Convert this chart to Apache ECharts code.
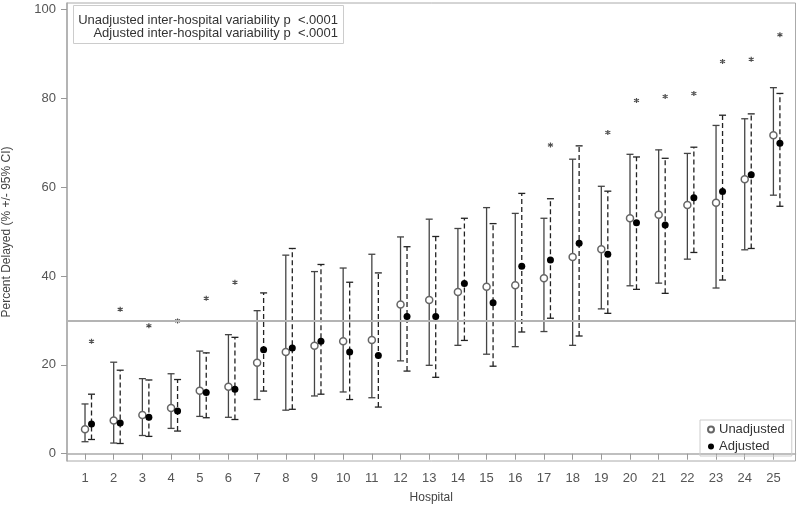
<!DOCTYPE html>
<html>
<head>
<meta charset="utf-8">
<script src="https://cdn.jsdelivr.net/npm/echarts@6/dist/echarts.min.js"></script>
<style>html,body{margin:0;padding:0;background:#fff;}#chart{width:800px;height:514px;}</style>
</head>
<body>
<div id="chart"></div>
<script>
const hospitals = [1,2,3,4,5,6,7,8,9,10,11,12,13,14,15,16,17,18,19,20,21,22,23,24,25];
const unadj     = [5.5,7.5,8.7,10.3,14.2,15.1,20.5,22.9,24.3,25.3,25.6,33.6,34.6,36.4,37.6,37.9,39.5,44.3,46.0,53.0,53.8,56.0,56.5,61.8,71.7];
const unadjLow  = [2.7,2.4,4.1,5.7,8.4,8.2,12.2,9.8,13.0,13.9,12.6,20.9,19.9,24.4,22.4,24.1,27.5,24.4,32.6,37.8,38.4,43.8,37.3,45.9,58.2];
const unadjHigh = [11.2,20.6,16.9,18.0,23.1,26.8,32.2,44.7,41.0,41.8,44.9,48.8,52.8,50.7,55.4,54.1,53.0,66.3,60.2,67.4,68.4,67.6,73.9,75.4,82.4];
const adj       = [6.7,6.9,8.2,9.6,13.8,14.5,23.4,23.8,25.3,22.9,22.1,30.9,30.9,38.3,34.0,42.2,43.6,47.4,44.9,52.0,51.5,57.6,59.0,62.8,69.9];
const adjLow    = [3.2,2.3,3.9,5.1,8.1,7.7,14.1,10.0,13.4,12.2,10.5,18.6,17.2,25.5,19.7,27.4,30.5,26.5,31.6,37.0,36.1,45.3,39.1,46.2,55.7];
const adjHigh   = [13.4,18.8,16.6,16.7,22.7,26.2,36.2,46.2,42.6,38.6,40.7,46.6,48.9,53.0,51.8,58.6,57.4,69.3,59.1,66.8,66.5,69.0,76.2,76.5,81.1];
const starHosp  = [1,2,3,4,5,6,17,19,20,21,22,23,24,25];
const starVal   = [25.3,32.5,28.8,29.9,35.0,38.6,69.5,72.3,79.5,80.4,81.1,88.3,88.8,94.3];
const yTicks    = [0,20,40,60,80,100];
const refLine   = 30;
const insetLines = ['Unadjusted inter-hospital variability p  <.0001', 'Adjusted inter-hospital variability p  <.0001'];

const FONT = '"Liberation Sans", Arial, sans-serif';
const ADJ_OFF = 6.5;
const CAP = 3.5;

function ciSeries(name, lo, hi, dx, dashed, color) {
  return {
    name: name, type: 'custom', silent: true, z: 2,
    data: hospitals.map((h, i) => [h, lo[i], hi[i]]),
    encode: { x: 0, y: [1, 2] },
    renderItem: function (params, api) {
      const x = api.value(0);
      const a = api.coord([x, api.value(1)]);
      const b = api.coord([x, api.value(2)]);
      const px = a[0] + dx;
      const base = { stroke: color, lineWidth: 1.3 };
      return {
        type: 'group',
        children: [
          { type: 'line', shape: { x1: px, y1: a[1], x2: px, y2: b[1] },
            style: Object.assign({}, base, dashed ? { lineDash: [5, 3] } : {}) },
          { type: 'line', shape: { x1: px - CAP, y1: a[1], x2: px + CAP, y2: a[1] }, style: base },
          { type: 'line', shape: { x1: px - CAP, y1: b[1], x2: px + CAP, y2: b[1] }, style: base }
        ]
      };
    }
  };
}

const chart = echarts.init(document.getElementById('chart'));
chart.setOption({
  animation: false,
  textStyle: { fontFamily: FONT },
  grid: { left: 67, right: 4.5, top: 3, bottom: 53, show: true, borderColor: '#aaa', borderWidth: 1, outerBoundsMode: 'none', containLabel: false },
  xAxis: {
    type: 'value', min: 0.372, max: 25.77,
    name: 'Hospital', nameLocation: 'middle', nameGap: 31,
    nameTextStyle: { fontSize: 12, color: '#444', fontFamily: FONT },
    axisLine: { show: true, lineStyle: { color: '#aaa', width: 1.5 } },
    axisTick: { show: true, customValues: hospitals, length: 6, lineStyle: { color: '#999' } },
    axisLabel: { customValues: hospitals, fontSize: 13, color: '#555', margin: 11, fontFamily: FONT },
    splitLine: { show: false }
  },
  yAxis: {
    type: 'value', min: -1.64, max: 101.46,
    name: 'Percent Delayed (% +/- 95% CI)', nameLocation: 'middle', nameGap: 54,
    nameTextStyle: { fontSize: 12, color: '#444', fontFamily: FONT },
    axisLine: { show: true, lineStyle: { color: '#aaa', width: 1.5 } },
    axisTick: { show: true, customValues: yTicks, length: 6, lineStyle: { color: '#999' } },
    axisLabel: { customValues: yTicks, fontSize: 13, color: '#555', margin: 11, fontFamily: FONT },
    splitLine: { show: false }
  },
  legend: {
    orient: 'vertical', left: 700, top: 420,
    data: ['Unadjusted', 'Adjusted'],
    borderColor: '#ccc', borderWidth: 1, padding: [3, 7, 3, 7],
    itemGap: 4, itemWidth: 6, itemHeight: 6,
    textStyle: { fontSize: 13, color: '#333', fontFamily: FONT }
  },
  graphic: [
    { type: 'rect', left: 73, top: 5, shape: { width: 270, height: 38 },
      style: { fill: '#fff', stroke: '#ccc', lineWidth: 1 }, z: 100 },
    { type: 'text', x: 338, y: 20, z: 101,
      style: { text: insetLines[0], align: 'right', verticalAlign: 'middle', fill: '#333', font: '13px ' + FONT } },
    { type: 'text', x: 338, y: 33, z: 101,
      style: { text: insetLines[1], align: 'right', verticalAlign: 'middle', fill: '#333', font: '13px ' + FONT } }
  ],
  series: [
    ciSeries('uci', unadjLow, unadjHigh, 0, false, '#444'),
    ciSeries('aci', adjLow, adjHigh, ADJ_OFF, true, '#222'),
    {
      name: 'Unadjusted', type: 'scatter', z: 5,
      data: hospitals.map((h, i) => [h, unadj[i]]),
      symbol: 'circle', symbolSize: 7,
      itemStyle: { color: '#fff', borderColor: '#666', borderWidth: 1.5, opacity: 1 },
      markLine: {
        silent: true, symbol: 'none', label: { show: false },
        lineStyle: { color: '#b4b4b4', width: 2, type: 'solid' },
        data: [{ yAxis: refLine }]
      }
    },
    {
      name: 'Adjusted', type: 'scatter', z: 5,
      data: hospitals.map((h, i) => [h, adj[i]]),
      symbol: 'circle', symbolSize: 7, symbolOffset: [ADJ_OFF, 0],
      itemStyle: { color: '#000', opacity: 1 }
    },
    {
      name: 'stars', type: 'scatter', z: 4,
      data: starHosp.map((h, i) => [h, starVal[i]]),
      symbol: 'path://M5,0 L5,10 M0.7,2.5 L9.3,7.5 M0.7,7.5 L9.3,2.5',
      symbolSize: 5, symbolOffset: [ADJ_OFF, 0],
      itemStyle: { color: '#222', borderColor: '#222', borderWidth: 1.2 }
    }
  ]
});
</script>
</body>
</html>
